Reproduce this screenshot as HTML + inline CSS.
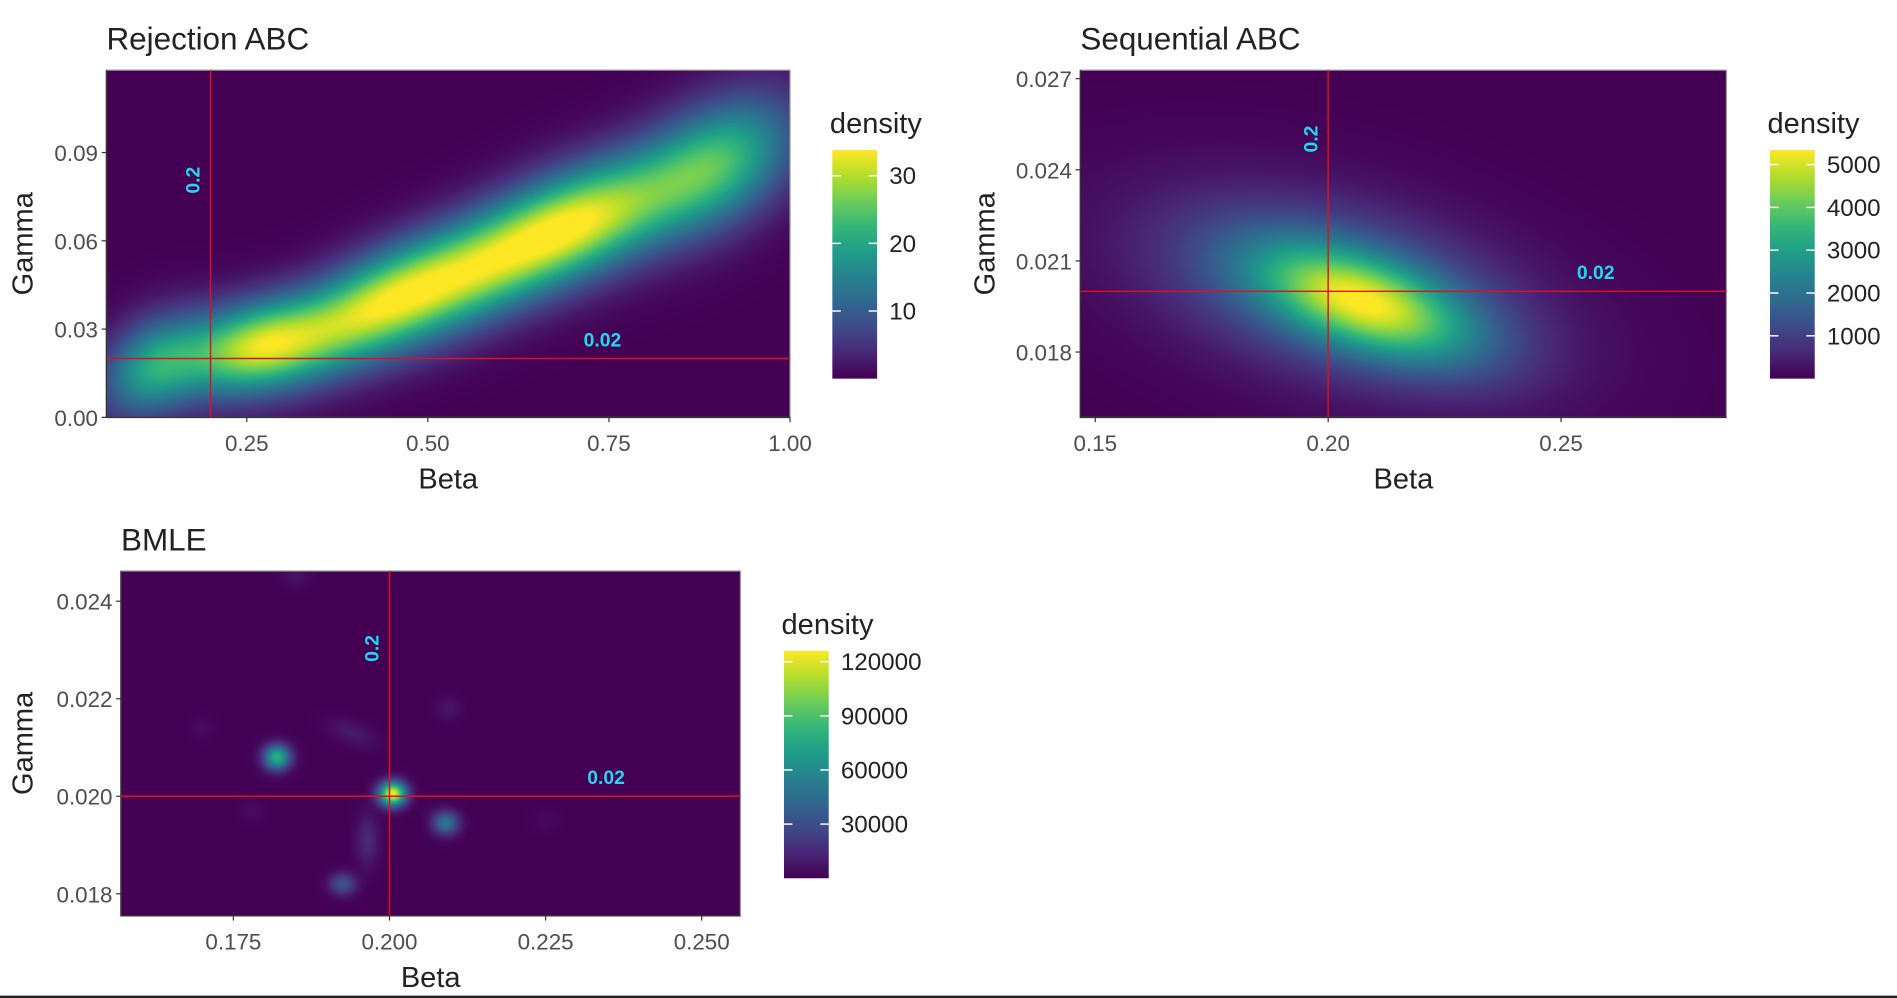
<!DOCTYPE html>
<html><head><meta charset="utf-8"><style>
html,body{margin:0;padding:0;background:#fff;overflow:hidden}
#root{position:absolute;left:0;top:0;width:1568px;height:825px;transform-origin:0 0;transform:scale(1.20982,1.20970)}
canvas{position:absolute;image-rendering:auto}
svg{position:absolute;left:0;top:0}
text{font-family:"Liberation Sans",sans-serif}
</style></head><body>
<div id="root">
<canvas id="c1"></canvas>
<canvas id="c2"></canvas>
<canvas id="c3"></canvas>
<canvas id="l1"></canvas>
<canvas id="l2"></canvas>
<canvas id="l3"></canvas>
<svg id="svg" width="1568" height="825" viewBox="0 0 1568 825"></svg>
</div>
<script>
// ---- data: mixture components [beta, gamma, sdBeta, sdGamma, rho, height]
const p1Components = [
  [0.12,0.017,0.05,0.012,0.3,18],
  [0.26,0.024,0.07,0.011,0.3,28],
  [0.43,0.038,0.09,0.015,0.6,28],
  [0.58,0.051,0.09,0.016,0.6,20],
  [0.72,0.067,0.09,0.015,0.5,27],
  [0.90,0.086,0.075,0.016,0.4,22]
];
const p2Components = [
  [0.208,0.0196,0.016,0.0013,-0.55,3600],
  [0.203,0.0200,0.027,0.0021,-0.4,1900]
];
const p3Components = [
  [0.2005,0.02005,0.0015,0.00017,0,126000],
  [0.182,0.0208,0.0015,0.00018,0,80000],
  [0.209,0.01945,0.0015,0.00017,0,48000],
  [0.1925,0.0182,0.0015,0.00016,0,32000],
  [0.1965,0.0191,0.0013,0.00038,0,15000],
  [0.194,0.0213,0.0027,0.0002,-0.5,9000],
  [0.2095,0.0218,0.0014,0.00017,0,7000],
  [0.185,0.0245,0.0016,0.00017,0,6000],
  [0.170,0.0214,0.0014,0.00017,0,4000],
  [0.178,0.0197,0.0014,0.00017,0,4000],
  [0.225,0.0195,0.0016,0.00017,0,3000]
];
const p1XTicks=[0.25,0.50,0.75,1.00], p1XLabels=["0.25","0.50","0.75","1.00"];
const p1YTicks=[0,0.03,0.06,0.09], p1YLabels=["0.00","0.03","0.06","0.09"];
const p1LegTicks=[10,20,30];
const p2XTicks=[0.15,0.20,0.25], p2XLabels=["0.15","0.20","0.25"];
const p2YTicks=[0.018,0.021,0.024,0.027], p2YLabels=["0.018","0.021","0.024","0.027"];
const p2LegTicks=[1000,2000,3000,4000,5000];
const p3XTicks=[0.175,0.2,0.225,0.25], p3XLabels=["0.175","0.200","0.225","0.250"];
const p3YTicks=[0.018,0.020,0.022,0.024], p3YLabels=["0.018","0.020","0.022","0.024"];
const p3LegTicks=[30000,60000,90000,120000];
const trueBeta=0.2, trueGamma=0.02;

const VIR=[[68,1,84],[72,40,120],[62,74,137],[49,104,142],[38,130,142],[31,158,137],[53,183,121],[109,205,89],[180,222,44],[253,231,37]];
function vir(t){t=Math.max(0,Math.min(1,t));const f=t*9,i=Math.min(8,Math.floor(f)),r=f-i;return VIR[i].map((v,k)=>Math.round(v+(VIR[i+1][k]-v)*r));}
const NS='http://www.w3.org/2000/svg', svg=document.getElementById('svg');
function el(tag,attrs,txt){const e=document.createElementNS(NS,tag);for(const k in attrs)e.setAttribute(k,attrs[k]);if(txt!==undefined)e.textContent=txt;svg.appendChild(e);return e;}

function panel(o){
  const sx=v=>o.x0+(v-o.xd[0])/(o.xd[1]-o.xd[0])*(o.x1-o.x0);
  const sy=v=>o.y1-(v-o.yd[0])/(o.yd[1]-o.yd[0])*(o.y1-o.y0);
  const W=Math.round(o.x1-o.x0),H=Math.round(o.y1-o.y0);
  const c=document.getElementById(o.cid);c.width=W;c.height=H;
  c.style.left=o.x0+'px';c.style.top=o.y0+'px';c.style.width=W+'px';c.style.height=H+'px';
  const ctx=c.getContext('2d'),img=ctx.createImageData(W,H);
  for(let j=0;j<H;j++){const g=o.yd[1]-(j+0.5)/H*(o.yd[1]-o.yd[0]);
    for(let i=0;i<W;i++){const b=o.xd[0]+(i+0.5)/W*(o.xd[1]-o.xd[0]);let d=0;
      for(const m of o.comps){const u=(b-m[0])/m[2],v=(g-m[1])/m[3],r=m[4];
        d+=m[5]*Math.exp(-(u*u-2*r*u*v+v*v)/(2*(1-r*r)));}
      const col=vir(d/o.lmax),p=(j*W+i)*4;img.data[p]=col[0];img.data[p+1]=col[1];img.data[p+2]=col[2];img.data[p+3]=255;}}
  ctx.putImageData(img,0,0);
  el('rect',{x:o.x0,y:o.y0,width:o.x1-o.x0,height:o.y1-o.y0,fill:'none',stroke:'#9a9a9a','stroke-width':1,});
  el('line',{x1:o.x0,y1:o.y0,x2:o.x0,y2:o.y1+0.5,stroke:'#333','stroke-width':1.2,});
  el('line',{x1:o.x0,y1:o.y1,x2:o.x1,y2:o.y1,stroke:'#333','stroke-width':1.2,});
  el('line',{x1:sx(trueBeta),y1:o.y0,x2:sx(trueBeta),y2:o.y1,stroke:'#e0101a','stroke-width':1.2,});
  el('line',{x1:o.x0,y1:sy(trueGamma),x2:o.x1,y2:sy(trueGamma),stroke:'#e0101a','stroke-width':1.2,});
  el('text',{x:0,y:0,transform:`translate(${sx(trueBeta)-9},${o.lab2y}) rotate(-90)`,'text-anchor':'middle','font-size':16,'font-weight':'bold',fill:'#22d8ee',},'0.2');
  el('text',{x:o.lab02x,y:sy(trueGamma)-10,'text-anchor':'middle','font-size':16,'font-weight':'bold',fill:'#22d8ee',},'0.02');
  o.xt.forEach((t,k)=>{const x=sx(t);
    el('line',{x1:x,y1:o.y1,x2:x,y2:o.y1+4,stroke:'#333','stroke-width':1,});
    el('text',{x:x,y:o.y1+28,'text-anchor':'middle','font-size':18.5,fill:'#4d4d4d',},o.xl[k]);});
  o.yt.forEach((t,k)=>{const y=sy(t);
    el('line',{x1:o.x0-4,y1:y,x2:o.x0,y2:y,stroke:'#333','stroke-width':1,});
    el('text',{x:o.x0-7,y:y+7,'text-anchor':'end','font-size':18.5,fill:'#4d4d4d',},o.yl[k]);});
  el('text',{x:(o.x0+o.x1)/2,y:o.y1+59,'text-anchor':'middle','font-size':24,fill:'#222',},'Beta');
  el('text',{x:0,y:0,transform:`translate(${o.gx},${(o.y0+o.y1)/2}) rotate(-90)`,'text-anchor':'middle','font-size':24,fill:'#222',},'Gamma');
  el('text',{x:o.x0,y:o.y0-17,'font-size':26,fill:'#222',},o.title);
  const L=o.leg,lc=document.getElementById(o.lid);lc.width=1;lc.height=200;
  lc.style.left=L.x+'px';lc.style.top=L.y0+'px';lc.style.width=(L.w)+'px';lc.style.height=(L.y1-L.y0)+'px';
  const lx=lc.getContext('2d');for(let j=0;j<200;j++){const col=vir(1-j/199);lx.fillStyle=`rgb(${col})`;lx.fillRect(0,j,1,1);}
  const ly=v=>L.y1-v/o.lmax*(L.y1-L.y0);
  el('text',{x:L.x-2,y:L.y0-14,'font-size':24,fill:'#222',},'density');
  o.lt.forEach(v=>{const y=ly(v);
    el('line',{x1:L.x,y1:y,x2:L.x+7,y2:y,stroke:'#fff','stroke-width':1.2,});
    el('line',{x1:L.x+L.w-7,y1:y,x2:L.x+L.w,y2:y,stroke:'#fff','stroke-width':1.2,});
    el('text',{x:L.x+L.w+10,y:y+7,'font-size':20,fill:'#222',},String(v));});
}
panel({name:'rejection',title:'Rejection ABC',cid:'c1',lid:'l1',comps:p1Components,x0:88,x1:653,y0:58,y1:345,xd:[0.0563,1.0],yd:[0,0.118],
  xt:p1XTicks,xl:p1XLabels,yt:p1YTicks,yl:p1YLabels,lmax:33.8,lt:p1LegTicks,gx:27,lab2y:149,lab02x:498,leg:{x:688,w:37,y0:124,y1:313}});
panel({name:'sequential',title:'Sequential ABC',cid:'c2',lid:'l2',comps:p2Components,x0:893,x1:1427,y0:58,y1:345,xd:[0.1468,0.2855],yd:[0.01585,0.02728],
  xt:p2XTicks,xl:p2XLabels,yt:p2YTicks,yl:p2YLabels,lmax:5340,lt:p2LegTicks,gx:822,lab2y:115,lab02x:1319,leg:{x:1463,w:37,y0:124,y1:313}});
panel({name:'bmle',title:'BMLE',cid:'c3',lid:'l3',comps:p3Components,x0:100,x1:612,y0:472,y1:757,xd:[0.157,0.2562],yd:[0.01755,0.02462],
  xt:p3XTicks,xl:p3XLabels,yt:p3YTicks,yl:p3YLabels,lmax:126000,lt:p3LegTicks,gx:27,lab2y:536,lab02x:501,leg:{x:648,w:37,y0:538,y1:726}});
el('line',{x1:0,y1:824,x2:1568,y2:824,stroke:'#222','stroke-width':2,});
</script>
</body></html>
